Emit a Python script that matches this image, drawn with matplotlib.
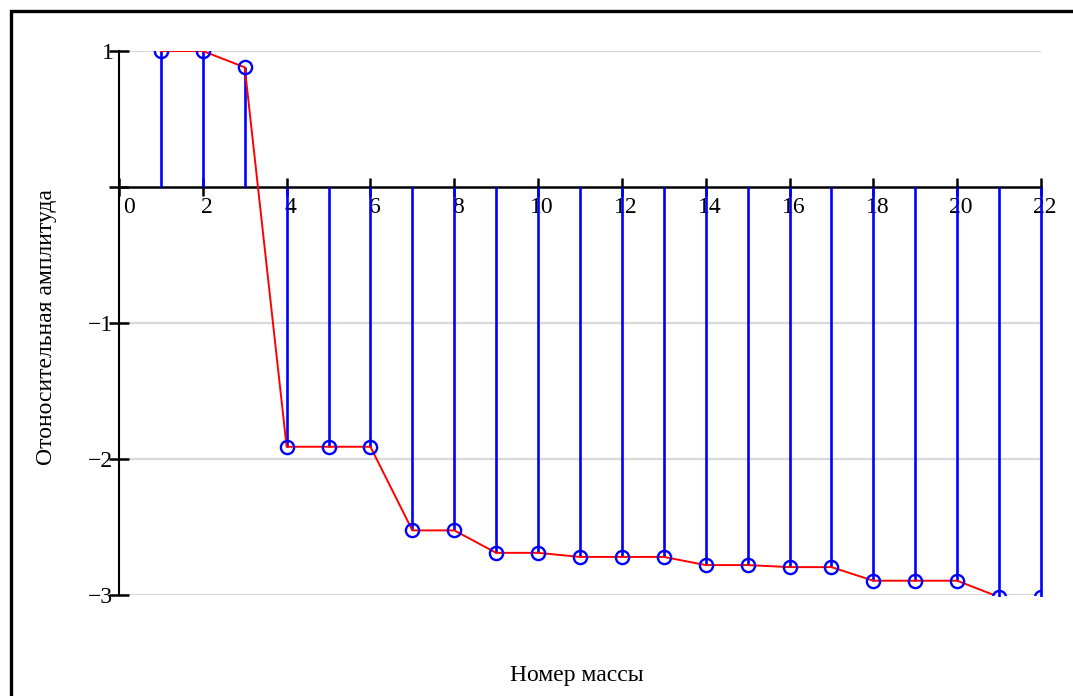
import numpy as np
import matplotlib.pyplot as plt
import matplotlib.transforms as mtransforms
from matplotlib.lines import Line2D

plt.rcParams['font.family'] = ['Liberation Serif', 'DejaVu Serif']

# mass index and relative amplitude
mass_no = list(range(1, 23))
amplitude = [1.0, 1.0, 0.88, -1.91, -1.91, -1.91, -2.525, -2.525, -2.69, -2.69,
             -2.72, -2.72, -2.72, -2.78, -2.78, -2.795, -2.795, -2.895, -2.895,
             -2.895, -3.015, -3.015]
x_ticks = list(range(0, 23, 2))
y_ticks = [-3, -2, -1, 0, 1]
y_tick_labels = ['\u22123', '\u22122', '\u22121', '', '1']

W, H = 1073, 696
fig = plt.figure(figsize=(W / 100, H / 100), dpi=100)
ax = fig.add_axes([119 / W, 1 - 595 / H, (1041 - 119) / W, (595 - 51) / H])

# stems from zero to each value
stems = ax.vlines(mass_no, 0, amplitude, color='#0000ff', lw=1.9, zorder=3)
# widen the clip box slightly so the edge stem is not cut in half
stems.set_clip_box(mtransforms.TransformedBbox(
    mtransforms.Bbox([[-0.01, -0.003], [1.01, 1.01]]), ax.transAxes))
ax.plot(mass_no, amplitude, color='#ff0000', lw=1.4, zorder=4)
ax.plot(mass_no, amplitude, 'o', mfc='none', mec='#0000ff', ms=9.5, mew=1.7, zorder=5)

ax.set_xlim(0, 22)
ax.set_ylim(-3, 1)

for v in [1, -1, -2, -3]:
    ax.axhline(v, color='#d9d9d9', lw=1.6, zorder=1)

for side in ['top', 'right']:
    ax.spines[side].set_visible(False)
ax.spines['bottom'].set_position(('data', 0))
ax.spines['bottom'].set_linewidth(1.8)
ax.spines['left'].set_linewidth(1.5)

ax.set_xticks(x_ticks)
ax.set_xticklabels([str(t) for t in x_ticks])
ax.set_yticks(y_ticks)
ax.set_yticklabels(y_tick_labels)
ax.tick_params(axis='x', direction='inout', length=13, width=1.8, pad=1, labelsize=17)
ax.tick_params(axis='y', direction='inout', length=14, width=1.8, pad=-3, labelsize=17)

# nudge x labels a little right of their ticks
for i, lab in enumerate(ax.get_xticklabels()):
    dx = 10 / 100 if i == 0 else 4 / 100
    lab.set_transform(lab.get_transform() + mtransforms.ScaledTranslation(dx, 0, fig.dpi_scale_trans))

fig.text(47 / W, 1 - 327 / H, 'Отоносительная амплитуда', rotation=90,
         ha='center', va='center', fontsize=17)
fig.text(577 / W, 1 - 675 / H, 'Номер массы', ha='center', va='center', fontsize=17)

# frame along the left and top edges
fig.add_artist(Line2D([10.5 / W, 10.5 / W, 1], [0, 1 - 10.5 / H, 1 - 10.5 / H],
                      color='black', lw=2.4, solid_joinstyle='miter',
                      transform=fig.transFigure))

fig.savefig('out.png', dpi=100)
